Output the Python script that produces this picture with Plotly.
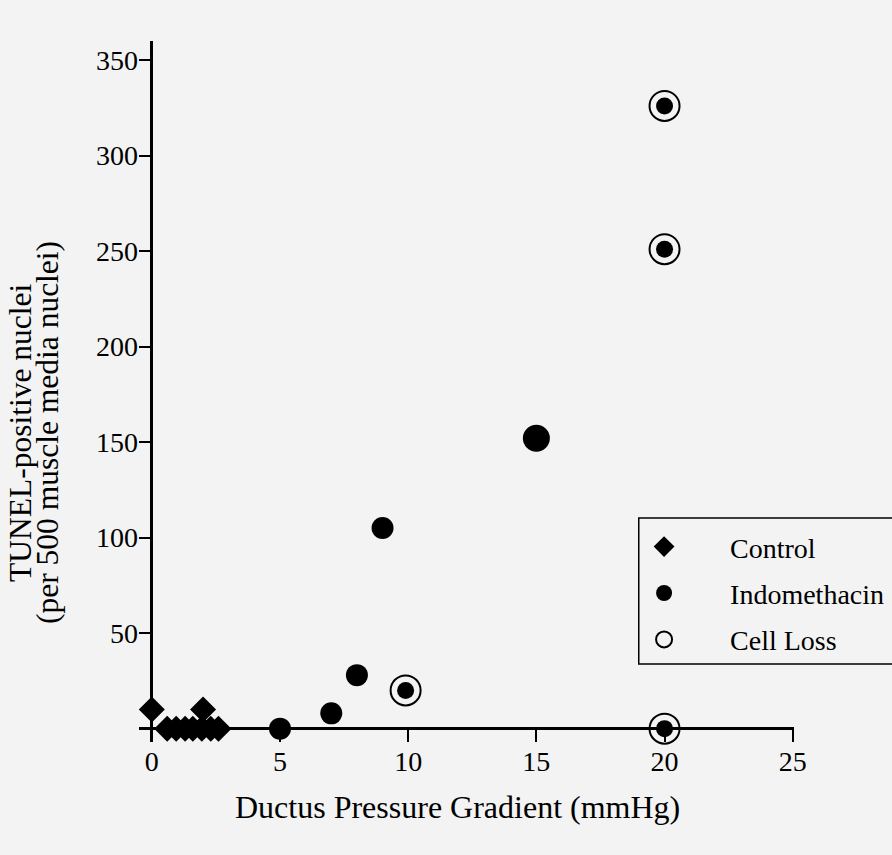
import plotly.graph_objects as go

# Data
control_x = [0.0, 2.0, 0.6, 0.95, 1.3, 1.6, 1.95, 2.3, 2.6]
control_y = [10, 10, 0, 0, 0, 0, 0, 0, 0]

indo_x = [5, 7, 8, 9, 15, 9.9, 20, 20, 20]
indo_y = [0, 8, 28, 105, 152, 20, 0, 251, 326]
indo_size = [22, 22, 22, 22, 27, 17, 17, 17, 17]

loss_x = [9.9, 20, 20, 20]
loss_y = [20, 0, 251, 326]

x_ticks = [0, 5, 10, 15, 20, 25]
y_ticks = [50, 100, 150, 200, 250, 300, 350]

y_title_lines = ["TUNEL-positive nuclei", "(per 500 muscle media nuclei)"]
x_title = "Ductus Pressure Gradient (mmHg)"

FONT = "Liberation Serif, Times New Roman, serif"
BG = "#f2f3f2"
NB = "\u00a0" * 6

fig = go.Figure()
fig.add_trace(go.Scatter(
    x=control_x, y=control_y, mode="markers", name=NB + "Control",
    legendgroup="a",
    marker=dict(symbol="diamond", size=20, color="black", opacity=1, line=dict(width=0)),
    cliponaxis=False))
fig.add_trace(go.Scatter(
    x=indo_x, y=indo_y, mode="markers", name=NB + "Indomethacin",
    legendgroup="b",
    marker=dict(symbol="circle", size=indo_size, color="black", opacity=1, line=dict(width=0)),
    cliponaxis=False))
fig.add_trace(go.Scatter(
    x=loss_x, y=loss_y, mode="markers", name=NB + "Cell Loss",
    legendgroup="c",
    marker=dict(symbol="circle-open", size=30, color="black", opacity=1, line=dict(width=2)),
    cliponaxis=False))

ann = []
for txt, px in zip(y_title_lines, [20, 47]):
    ann.append(dict(
        text=txt, xref="paper", yref="paper",
        x=(px - 139) / 654, y=0.442, xanchor="center", yanchor="middle",
        textangle=-90, showarrow=False,
        font=dict(family=FONT, size=31.5, color="black")))
ann.append(dict(
    text=x_title, xref="paper", yref="paper",
    x=(457 - 139) / 654, y=(742 - 807) / 701, xanchor="center", yanchor="middle",
    showarrow=False, font=dict(family=FONT, size=32, color="black")))

# legend frame (runs past the right edge of the page, as in the reference)
legend_box = dict(
    type="rect", xref="paper", yref="paper",
    x0=(638 - 139) / 654, x1=(905 - 139) / 654,
    y0=(742 - 664) / 701, y1=(742 - 518) / 701,
    line=dict(color="black", width=1.5), fillcolor="rgba(0,0,0,0)", layer="above")

fig.update_layout(
    width=892, height=855,
    margin=dict(l=139, r=98, t=41, b=113, autoexpand=False),
    paper_bgcolor=BG, plot_bgcolor=BG,
    font=dict(family=FONT, size=28, color="black"),
    showlegend=True,
    annotations=ann,
    shapes=[legend_box],
    legend=dict(
        x=0.765, y=0.314, xanchor="left", yanchor="top",
        bgcolor="rgba(0,0,0,0)", borderwidth=0,
        font=dict(family=FONT, size=28, color="black"),
        tracegroupgap=7, itemwidth=38,
    ),
    xaxis=dict(
        range=[-0.5, 25.05], tickvals=x_ticks, ticktext=[str(v) for v in x_ticks],
        ticks="inside", ticklen=12, tickwidth=2, tickcolor="black",
        showgrid=False, showline=False,
        zeroline=True, zerolinecolor="black", zerolinewidth=2.5,
        tickfont=dict(family=FONT, size=28),
    ),
    yaxis=dict(
        range=[-7, 360], tickvals=y_ticks, ticktext=[str(v) for v in y_ticks],
        ticks="inside", ticklen=13, tickwidth=2, tickcolor="black",
        showgrid=False, showline=False,
        zeroline=True, zerolinecolor="black", zerolinewidth=2.5,
        tickfont=dict(family=FONT, size=28),
    ),
)

fig.write_html("out.html")
